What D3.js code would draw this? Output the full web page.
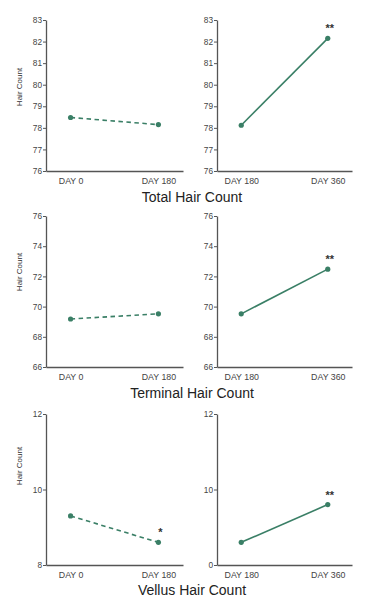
<!DOCTYPE html>
<html><head><meta charset="utf-8">
<script src="https://cdn.jsdelivr.net/npm/d3@7/dist/d3.min.js"></script>
<style>body{margin:0;background:#fff}svg{display:block}</style>
</head><body><svg id="c" width="368" height="608"></svg>
<script>
const titles = ["Total Hair Count", "Terminal Hair Count", "Vellus Hair Count"];
const leftCats = ["DAY 0", "DAY 180"];
const rightCats = ["DAY 180", "DAY 360"];
const leftValues = [[78.48, 78.15], [69.18, 69.52], [9.3, 8.6]];
const rightValues = [[78.12, 82.15], [69.52, 72.48], [8.6, 9.6]];
const yDomains = [[76, 83], [66, 76], [8, 12]];
const yTicks = [[76, 77, 78, 79, 80, 81, 82, 83], [66, 68, 70, 72, 74, 76], [8, 10, 12]];
const leftTickLabels = [["76","77","78","79","80","81","82","83"], ["66","68","70","72","74","76"], ["8","10","12"]];
const rightTickLabels = [["76","77","78","79","80","81","82","83"], ["66","68","70","72","74","76"], ["0","10","12"]];
const leftStars = [["", ""], ["", ""], ["", "*"]];
const rightStars = [["", "**"], ["", "**"], ["", "**"]];
const yAxisLabel = "Hair Count";

const svg = d3.select("#c");
const green = "#3a7f66";
const font = "Liberation Sans, Arial, sans-serif";
const rowTop = [20, 216, 414];
const plotH = 151;
const cols = [{x0: 46, x1: 183}, {x0: 217, x1: 352}];
const titleY = [202, 398, 595];
const labelY = [87, 272, 466];

function panel(r, c) {
  const col = cols[c];
  const cats = c === 0 ? leftCats : rightCats;
  const vals = c === 0 ? leftValues[r] : rightValues[r];
  const stars = c === 0 ? leftStars[r] : rightStars[r];
  const tickLabels = c === 0 ? leftTickLabels[r] : rightTickLabels[r];
  const x = d3.scalePoint().domain(cats).range([col.x0, col.x1]).padding(0.28);
  const y = d3.scaleLinear().domain(yDomains[r]).range([rowTop[r] + plotH, rowTop[r]]);
  const g = svg.append("g");
  const yAx = g.append("g").attr("transform", `translate(${col.x0},0)`)
    .call(d3.axisLeft(y).tickValues(yTicks[r]).tickSize(3).tickSizeOuter(0)
      .tickFormat((d, i) => tickLabels[i]));
  const xAx = g.append("g").attr("transform", `translate(0,${rowTop[r] + plotH})`)
    .call(d3.axisBottom(x).tickSize(0).tickPadding(7));
  [yAx, xAx].forEach(a => {
    a.select(".domain").attr("stroke", "#555").attr("stroke-width", 1.3);
    a.selectAll(".tick line").attr("stroke", "#555");
    a.selectAll("text").attr("fill", "#444").attr("font-family", font).attr("font-size", 8.3);
  });
  xAx.selectAll("text").attr("font-size", 8.8);
  yAx.selectAll(".tick text").attr("x", -4);
  const pts = cats.map((k, i) => [x(k), y(vals[i])]);
  g.append("path").attr("d", d3.line()(pts)).attr("fill", "none")
    .attr("stroke", green).attr("stroke-width", 1.6)
    .attr("stroke-dasharray", c === 0 ? "4.5,3.5" : null);
  g.selectAll("circle").data(pts).join("circle")
    .attr("cx", d => d[0]).attr("cy", d => d[1]).attr("r", 2.6).attr("fill", green);
  g.selectAll("text.star").data(cats).join("text").attr("class", "star")
    .attr("x", (k) => x(k) + 2).attr("y", (k, i) => y(vals[i]) - 6)
    .attr("text-anchor", "middle").attr("font-family", font).attr("font-size", 11)
    .attr("font-weight", "bold").attr("fill", "#333").text((k, i) => stars[i]);
  if (c === 0) {
    g.append("text").attr("transform", `translate(22,${labelY[r]}) rotate(-90)`)
      .attr("text-anchor", "middle").attr("font-family", font).attr("font-size", 8)
      .attr("fill", "#333").text(yAxisLabel);
  }
}
for (let r = 0; r < 3; r++) {
  panel(r, 0); panel(r, 1);
  svg.append("text").attr("x", 192).attr("y", titleY[r]).attr("text-anchor", "middle")
    .attr("font-family", font).attr("font-size", 14).attr("fill", "#222").text(titles[r]);
}
</script></body></html>
